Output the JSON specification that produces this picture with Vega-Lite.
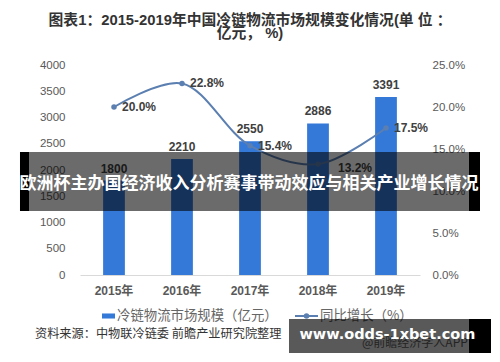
{
  "$schema": "https://vega.github.io/schema/vega-lite/v6.json",
  "width": 340,
  "height": 210,
  "autosize": {"type": "none"},
  "padding": {"left": 80, "top": 65, "right": 80, "bottom": 87},
  "background": "white",
  "config": {"view": {"stroke": null}},
  "title": {
    "text": ["图表1：2015-2019年中国冷链物流市场规模变化情况(单 位 ：", "亿元，  %)"],
    "anchor": "middle",
    "frame": "group",
    "font": "Liberation Sans, Noto Sans CJK SC",
    "fontSize": 14.8,
    "fontWeight": "bold",
    "lineHeight": 13,
    "color": "#333333",
    "offset": 18
  },
  "data": {
    "values": [
      {"year": "2015年", "scale": 1800, "growth": 0.200},
      {"year": "2016年", "scale": 2210, "growth": 0.228},
      {"year": "2017年", "scale": 2550, "growth": 0.154},
      {"year": "2018年", "scale": 2886, "growth": 0.132},
      {"year": "2019年", "scale": 3391, "growth": 0.175}
    ]
  },
  "layer": [
    {
      "encoding": {
        "x": {
          "field": "year", "type": "nominal", "sort": null,
          "scale": {"paddingInner": 0.68, "paddingOuter": 0.34},
          "axis": {
            "title": null, "labelAngle": 0, "ticks": false, "labelPadding": 10,
            "labelFontSize": 12, "labelColor": "#595959", "labelFontWeight": "bold",
            "labelFont": "Liberation Sans, Noto Sans CJK SC",
            "domainColor": "#d9d9d9", "grid": false
          }
        },
        "y": {
          "field": "scale", "type": "quantitative",
          "scale": {"domain": [0, 4000], "nice": false},
          "axis": {
            "orient": "left", "title": null, "values": [0, 500, 1000, 1500, 2000, 2500, 3000, 3500, 4000],
            "format": "d",
            "grid": false, "domain": false, "ticks": false, "labelPadding": 15,
            "labelFontSize": 11.5, "labelColor": "#595959", "labelFont": "Liberation Sans"
          }
        }
      },
      "layer": [
        {"mark": {"type": "bar", "color": "#3478d8"}},
        {
          "mark": {"type": "text", "baseline": "bottom", "dy": -5, "fontSize": 12, "fontWeight": "bold", "color": "#404040", "font": "Liberation Sans"},
          "encoding": {"text": {"field": "scale", "type": "quantitative", "format": "d"}}
        }
      ]
    },
    {
      "encoding": {
        "x": {
          "field": "year", "type": "nominal", "sort": null,
          "scale": {"paddingInner": 0.68, "paddingOuter": 0.34},
          "axis": null
        },
        "y": {
          "field": "growth", "type": "quantitative",
          "scale": {"domain": [0, 0.25], "nice": false},
          "axis": {
            "orient": "right", "title": null, "values": [0, 0.05, 0.1, 0.15, 0.2, 0.25],
            "format": ".1%",
            "grid": false, "domain": false, "ticks": false, "labelPadding": 12,
            "labelFontSize": 11.5, "labelColor": "#595959", "labelFont": "Liberation Sans"
          }
        }
      },
      "layer": [
        {"mark": {"type": "line", "interpolate": "catmull-rom", "color": "#5b7fb0", "strokeWidth": 2}},
        {"mark": {"type": "point", "filled": true, "size": 30, "color": "#5b7fb0", "opacity": 1}},
        {
          "transform": [{"filter": "datum.year !== '2018年'"}],
          "mark": {"type": "text", "align": "left", "baseline": "middle", "dx": 8, "fontSize": 12, "fontWeight": "bold", "color": "#404040", "font": "Liberation Sans"},
          "encoding": {"text": {"field": "growth", "type": "quantitative", "format": ".1%"}}
        },
        {
          "transform": [{"filter": "datum.year === '2018年'"}],
          "mark": {"type": "text", "align": "left", "baseline": "middle", "dx": 20, "dy": 4, "fontSize": 12, "fontWeight": "bold", "color": "#404040", "font": "Liberation Sans"},
          "encoding": {"text": {"field": "growth", "type": "quantitative", "format": ".1%"}}
        }
      ]
    },
    {
      "data": {"values": [{
        "banner": "欧洲杯主办国经济收入分析赛事带动效应与相关产业增长情况",
        "site": "www.odds-1xbet.com",
        "source": "资料来源：中物联冷链委 前瞻产业研究院整理",
        "app": "@前瞻经济学人APP",
        "series1": "冷链物流市场规模（亿元）",
        "series2": "同比增长（%）"
      }]},
      "layer": [
        {
          "mark": {"type": "text", "align": "left", "baseline": "middle", "fontSize": 12.2, "color": "#333333", "font": "Noto Sans CJK SC"},
          "encoding": {
            "x": {"datum": -0.1324, "type": "quantitative", "scale": {"domain": [0, 1], "nice": false, "zero": false}, "axis": null},
            "y": {"datum": -1124, "type": "quantitative", "scale": {"domain": [0, 4000], "nice": false}, "axis": null},
            "text": {"field": "source"}
          }
        },
        {
          "mark": {"type": "rect", "color": "#3478d8"},
          "encoding": {
            "x": {"datum": 0.0647, "type": "quantitative"},
            "x2": {"datum": 0.1029},
            "y": {"datum": -733, "type": "quantitative"},
            "y2": {"datum": -829}
          }
        },
        {
          "mark": {"type": "text", "align": "left", "baseline": "middle", "fontSize": 13.4, "color": "#666666", "font": "Noto Sans CJK SC"},
          "encoding": {
            "x": {"datum": 0.1088, "type": "quantitative"},
            "y": {"datum": -781, "type": "quantitative"},
            "text": {"field": "series1"}
          }
        },
        {
          "mark": {"type": "rule", "color": "#5b7fb0", "strokeWidth": 2},
          "encoding": {
            "x": {"datum": 0.6324, "type": "quantitative"},
            "x2": {"datum": 0.7},
            "y": {"datum": -781, "type": "quantitative"}
          }
        },
        {
          "mark": {"type": "point", "filled": true, "size": 30, "color": "#5b7fb0", "opacity": 1},
          "encoding": {
            "x": {"datum": 0.6662, "type": "quantitative"},
            "y": {"datum": -781, "type": "quantitative"}
          }
        },
        {
          "mark": {"type": "text", "align": "left", "baseline": "middle", "fontSize": 13.4, "color": "#666666", "font": "Noto Sans CJK SC"},
          "encoding": {
            "x": {"datum": 0.7059, "type": "quantitative"},
            "y": {"datum": -781, "type": "quantitative"},
            "text": {"field": "series2"}
          }
        },
        {
          "mark": {"type": "text", "align": "center", "baseline": "middle", "fontSize": 12, "color": "#666666", "font": "Noto Sans CJK SC"},
          "encoding": {
            "x": {"datum": 0.985, "type": "quantitative"},
            "y": {"datum": -1295, "type": "quantitative"},
            "text": {"field": "app"}
          }
        },
        {
          "mark": {"type": "rect", "color": "#000000", "opacity": 0.58},
          "encoding": {
            "x": {"datum": -0.15, "type": "quantitative"},
            "x2": {"datum": 1.1441},
            "y": {"datum": 2343, "type": "quantitative"},
            "y2": {"datum": 1219}
          }
        },
        {
          "mark": {"type": "rect", "color": "#000000"},
          "encoding": {
            "x": {"datum": -0.1765, "type": "quantitative"},
            "x2": {"datum": -0.15},
            "y": {"datum": 2343, "type": "quantitative"},
            "y2": {"datum": 1219}
          }
        },
        {
          "mark": {"type": "rect", "color": "#000000"},
          "encoding": {
            "x": {"datum": 1.1441, "type": "quantitative"},
            "x2": {"datum": 1.1765},
            "y": {"datum": 2343, "type": "quantitative"},
            "y2": {"datum": 1219}
          }
        },
        {
          "mark": {"type": "rect", "color": "#000000", "opacity": 0.65},
          "encoding": {
            "x": {"datum": 0.6147, "type": "quantitative"},
            "x2": {"datum": 1.1441},
            "y": {"datum": -838, "type": "quantitative"},
            "y2": {"datum": -1486}
          }
        },
        {
          "mark": {"type": "rect", "color": "#000000"},
          "encoding": {
            "x": {"datum": 1.1441, "type": "quantitative"},
            "x2": {"datum": 1.2088},
            "y": {"datum": -838, "type": "quantitative"},
            "y2": {"datum": -1486}
          }
        },
        {
          "mark": {"type": "text", "align": "center", "baseline": "middle", "fontSize": 14.5, "fontWeight": "bold", "color": "#ffffff", "font": "DejaVu Sans"},
          "encoding": {
            "x": {"datum": 0.904, "type": "quantitative"},
            "y": {"datum": -1143, "type": "quantitative"},
            "text": {"field": "site"}
          }
        },
        {
          "mark": {"type": "text", "align": "center", "baseline": "middle", "fontSize": 17, "fontWeight": "bold", "color": "#ffffff", "font": "Noto Sans CJK SC"},
          "encoding": {
            "x": {"datum": 0.497, "type": "quantitative"},
            "y": {"datum": 1733, "type": "quantitative"},
            "text": {"field": "banner"}
          }
        }
      ]
    }
  ],
  "resolve": {"scale": {"x": "independent", "y": "independent"}}
}
